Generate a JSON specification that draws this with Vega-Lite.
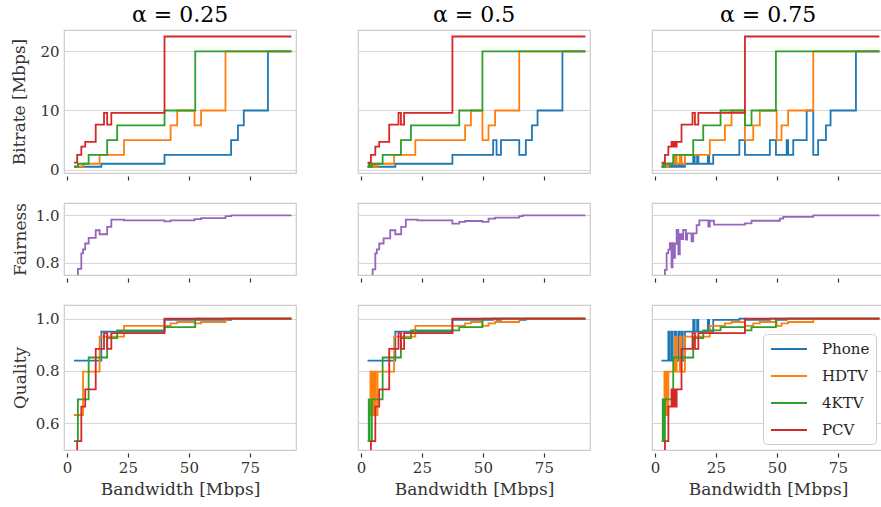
{
"$schema": "https://vega.github.io/schema/vega-lite/v6.json",
"padding": {"left": 10, "top": 4, "right": 0, "bottom": 0},
"background": "white",
"datasets": {
"bit": [
{"a":"0.25","s":"Phone","x":2.9,"y":0.5},{"a":"0.25","s":"Phone","x":14.1,"y":1},{"a":"0.25","s":"Phone","x":40,"y":2.5},{"a":"0.25","s":"Phone","x":67.3,"y":5},{"a":"0.25","s":"Phone","x":70.1,"y":7.5},{"a":"0.25","s":"Phone","x":72.5,"y":10},{"a":"0.25","s":"Phone","x":82.4,"y":20},{"a":"0.25","s":"Phone","x":92,"y":20},
{"a":"0.25","s":"HDTV","x":2.9,"y":0.5},{"a":"0.25","s":"HDTV","x":6.6,"y":1},{"a":"0.25","s":"HDTV","x":13.4,"y":2.5},{"a":"0.25","s":"HDTV","x":23.4,"y":5},{"a":"0.25","s":"HDTV","x":42.5,"y":7.5},{"a":"0.25","s":"HDTV","x":45.2,"y":10},{"a":"0.25","s":"HDTV","x":52.3,"y":7.5},{"a":"0.25","s":"HDTV","x":55,"y":10},{"a":"0.25","s":"HDTV","x":65,"y":20},{"a":"0.25","s":"HDTV","x":92,"y":20},
{"a":"0.25","s":"4KTV","x":2.9,"y":0.5},{"a":"0.25","s":"4KTV","x":4.5,"y":1},{"a":"0.25","s":"4KTV","x":8.9,"y":2.5},{"a":"0.25","s":"4KTV","x":16.5,"y":5},{"a":"0.25","s":"4KTV","x":20.6,"y":7.5},{"a":"0.25","s":"4KTV","x":40,"y":10},{"a":"0.25","s":"4KTV","x":52.6,"y":20},{"a":"0.25","s":"4KTV","x":92,"y":20},
{"a":"0.25","s":"PCV","x":2.9,"y":1.2},{"a":"0.25","s":"PCV","x":4.2,"y":2.5},{"a":"0.25","s":"PCV","x":5.9,"y":3.9},{"a":"0.25","s":"PCV","x":7.5,"y":4.7},{"a":"0.25","s":"PCV","x":11.8,"y":7.6},{"a":"0.25","s":"PCV","x":15.2,"y":9.6},{"a":"0.25","s":"PCV","x":16.5,"y":7.6},{"a":"0.25","s":"PCV","x":18.2,"y":9.6},{"a":"0.25","s":"PCV","x":40,"y":22.5},{"a":"0.25","s":"PCV","x":92,"y":22.5},
{"a":"0.5","s":"Phone","x":2.7,"y":0.5},{"a":"0.5","s":"Phone","x":14.1,"y":1},{"a":"0.5","s":"Phone","x":37.5,"y":2.5},{"a":"0.5","s":"Phone","x":54.2,"y":5},{"a":"0.5","s":"Phone","x":55.6,"y":2.5},{"a":"0.5","s":"Phone","x":57.4,"y":5},{"a":"0.5","s":"Phone","x":64.9,"y":2.5},{"a":"0.5","s":"Phone","x":67.6,"y":5},{"a":"0.5","s":"Phone","x":70.1,"y":7.5},{"a":"0.5","s":"Phone","x":72.4,"y":10},{"a":"0.5","s":"Phone","x":82.6,"y":20},{"a":"0.5","s":"Phone","x":92,"y":20},
{"a":"0.5","s":"HDTV","x":3.4,"y":0.5},{"a":"0.5","s":"HDTV","x":3.9,"y":1},{"a":"0.5","s":"HDTV","x":4.3,"y":0.5},{"a":"0.5","s":"HDTV","x":4.7,"y":1},{"a":"0.5","s":"HDTV","x":5.1,"y":0.5},{"a":"0.5","s":"HDTV","x":5.6,"y":1},{"a":"0.5","s":"HDTV","x":6.0,"y":0.5},{"a":"0.5","s":"HDTV","x":6.8,"y":1},{"a":"0.5","s":"HDTV","x":13.6,"y":2.5},{"a":"0.5","s":"HDTV","x":22.3,"y":5},{"a":"0.5","s":"HDTV","x":42.7,"y":7.5},{"a":"0.5","s":"HDTV","x":45.1,"y":10},{"a":"0.5","s":"HDTV","x":49.8,"y":5},{"a":"0.5","s":"HDTV","x":52.3,"y":7.5},{"a":"0.5","s":"HDTV","x":55,"y":10},{"a":"0.5","s":"HDTV","x":64.9,"y":20},{"a":"0.5","s":"HDTV","x":92,"y":20},
{"a":"0.5","s":"4KTV","x":2.7,"y":0.5},{"a":"0.5","s":"4KTV","x":3.2,"y":1},{"a":"0.5","s":"4KTV","x":3.6,"y":0.5},{"a":"0.5","s":"4KTV","x":4.5,"y":1},{"a":"0.5","s":"4KTV","x":8.9,"y":2.5},{"a":"0.5","s":"4KTV","x":16.4,"y":5},{"a":"0.5","s":"4KTV","x":20.5,"y":7.5},{"a":"0.5","s":"4KTV","x":40.3,"y":10},{"a":"0.5","s":"4KTV","x":49.8,"y":20},{"a":"0.5","s":"4KTV","x":92,"y":20},
{"a":"0.5","s":"PCV","x":2.7,"y":1.2},{"a":"0.5","s":"PCV","x":4.1,"y":2.5},{"a":"0.5","s":"PCV","x":5.9,"y":3.9},{"a":"0.5","s":"PCV","x":7.5,"y":4.7},{"a":"0.5","s":"PCV","x":11.6,"y":7.6},{"a":"0.5","s":"PCV","x":15.4,"y":9.6},{"a":"0.5","s":"PCV","x":16.4,"y":7.6},{"a":"0.5","s":"PCV","x":17.7,"y":9.6},{"a":"0.5","s":"PCV","x":37.5,"y":22.5},{"a":"0.5","s":"PCV","x":92,"y":22.5},
{"a":"0.75","s":"Phone","x":2.7,"y":0.5},{"a":"0.75","s":"Phone","x":5.5,"y":1},{"a":"0.75","s":"Phone","x":6.0,"y":0.5},{"a":"0.75","s":"Phone","x":6.8,"y":1},{"a":"0.75","s":"Phone","x":7.3,"y":0.5},{"a":"0.75","s":"Phone","x":8.2,"y":1},{"a":"0.75","s":"Phone","x":8.7,"y":0.5},{"a":"0.75","s":"Phone","x":9.6,"y":1},{"a":"0.75","s":"Phone","x":10.1,"y":0.5},{"a":"0.75","s":"Phone","x":10.9,"y":1},{"a":"0.75","s":"Phone","x":11.4,"y":0.5},{"a":"0.75","s":"Phone","x":12.3,"y":1},{"a":"0.75","s":"Phone","x":15.7,"y":2.5},{"a":"0.75","s":"Phone","x":16.3,"y":1},{"a":"0.75","s":"Phone","x":17.3,"y":2.5},{"a":"0.75","s":"Phone","x":17.8,"y":1},{"a":"0.75","s":"Phone","x":21.7,"y":2.5},{"a":"0.75","s":"Phone","x":22.2,"y":1},{"a":"0.75","s":"Phone","x":23.9,"y":2.5},{"a":"0.75","s":"Phone","x":34.6,"y":5},{"a":"0.75","s":"Phone","x":36.9,"y":2.5},{"a":"0.75","s":"Phone","x":47.1,"y":5},{"a":"0.75","s":"Phone","x":49.6,"y":2.5},{"a":"0.75","s":"Phone","x":54.0,"y":5},{"a":"0.75","s":"Phone","x":54.6,"y":2.5},{"a":"0.75","s":"Phone","x":56.7,"y":5},{"a":"0.75","s":"Phone","x":62.2,"y":10},{"a":"0.75","s":"Phone","x":64.9,"y":2.5},{"a":"0.75","s":"Phone","x":66.9,"y":5},{"a":"0.75","s":"Phone","x":70.1,"y":7.5},{"a":"0.75","s":"Phone","x":72.0,"y":10},{"a":"0.75","s":"Phone","x":82.4,"y":20},{"a":"0.75","s":"Phone","x":92,"y":20},
{"a":"0.75","s":"HDTV","x":3.4,"y":0.5},{"a":"0.75","s":"HDTV","x":3.9,"y":1},{"a":"0.75","s":"HDTV","x":4.2,"y":0.5},{"a":"0.75","s":"HDTV","x":4.6,"y":1},{"a":"0.75","s":"HDTV","x":4.9,"y":0.5},{"a":"0.75","s":"HDTV","x":5.5,"y":1},{"a":"0.75","s":"HDTV","x":8.2,"y":2.5},{"a":"0.75","s":"HDTV","x":8.9,"y":1},{"a":"0.75","s":"HDTV","x":10.2,"y":2.5},{"a":"0.75","s":"HDTV","x":10.9,"y":1},{"a":"0.75","s":"HDTV","x":12.3,"y":2.5},{"a":"0.75","s":"HDTV","x":22.5,"y":5},{"a":"0.75","s":"HDTV","x":28.7,"y":7.5},{"a":"0.75","s":"HDTV","x":31.4,"y":10},{"a":"0.75","s":"HDTV","x":36.9,"y":5},{"a":"0.75","s":"HDTV","x":40.3,"y":7.5},{"a":"0.75","s":"HDTV","x":43,"y":10},{"a":"0.75","s":"HDTV","x":49.9,"y":5},{"a":"0.75","s":"HDTV","x":51.9,"y":7.5},{"a":"0.75","s":"HDTV","x":54.6,"y":10},{"a":"0.75","s":"HDTV","x":64.9,"y":20},{"a":"0.75","s":"HDTV","x":92,"y":20},
{"a":"0.75","s":"4KTV","x":2.7,"y":0.5},{"a":"0.75","s":"4KTV","x":3.2,"y":1},{"a":"0.75","s":"4KTV","x":3.6,"y":0.5},{"a":"0.75","s":"4KTV","x":4.1,"y":1},{"a":"0.75","s":"4KTV","x":7.5,"y":2.5},{"a":"0.75","s":"4KTV","x":15.7,"y":5},{"a":"0.75","s":"4KTV","x":19.8,"y":7.5},{"a":"0.75","s":"4KTV","x":26.9,"y":10},{"a":"0.75","s":"4KTV","x":36.9,"y":7.5},{"a":"0.75","s":"4KTV","x":39.6,"y":10},{"a":"0.75","s":"4KTV","x":49.6,"y":20},{"a":"0.75","s":"4KTV","x":92,"y":20},
{"a":"0.75","s":"PCV","x":2.7,"y":1.2},{"a":"0.75","s":"PCV","x":4.1,"y":2.5},{"a":"0.75","s":"PCV","x":5.5,"y":3.9},{"a":"0.75","s":"PCV","x":6.8,"y":4.7},{"a":"0.75","s":"PCV","x":7.3,"y":3.9},{"a":"0.75","s":"PCV","x":7.8,"y":4.7},{"a":"0.75","s":"PCV","x":8.3,"y":3.9},{"a":"0.75","s":"PCV","x":8.9,"y":4.7},{"a":"0.75","s":"PCV","x":10.9,"y":7.6},{"a":"0.75","s":"PCV","x":15.4,"y":9.6},{"a":"0.75","s":"PCV","x":16.4,"y":7.6},{"a":"0.75","s":"PCV","x":17.8,"y":9.6},{"a":"0.75","s":"PCV","x":36.9,"y":22.5},{"a":"0.75","s":"PCV","x":92,"y":22.5}
],
"fair": [
{"a":"0.25","x":2.9,"y":0.70},{"a":"0.25","x":4.5,"y":0.774},{"a":"0.25","x":5.9,"y":0.839},{"a":"0.25","x":6.6,"y":0.856},{"a":"0.25","x":7.5,"y":0.881},{"a":"0.25","x":8.9,"y":0.905},{"a":"0.25","x":11.8,"y":0.937},{"a":"0.25","x":13.4,"y":0.92},{"a":"0.25","x":16.5,"y":0.951},{"a":"0.25","x":18.2,"y":0.982},{"a":"0.25","x":23.4,"y":0.979},{"a":"0.25","x":40,"y":0.974},{"a":"0.25","x":42.5,"y":0.979},{"a":"0.25","x":52.3,"y":0.984},{"a":"0.25","x":55,"y":0.988},{"a":"0.25","x":65,"y":0.997},{"a":"0.25","x":67.3,"y":1.0},{"a":"0.25","x":92,"y":1.0},
{"a":"0.5","x":2.7,"y":0.70},{"a":"0.5","x":4.8,"y":0.772},{"a":"0.5","x":5.9,"y":0.839},{"a":"0.5","x":6.5,"y":0.856},{"a":"0.5","x":7.5,"y":0.881},{"a":"0.5","x":9.3,"y":0.903},{"a":"0.5","x":12.0,"y":0.937},{"a":"0.5","x":14.1,"y":0.92},{"a":"0.5","x":16.5,"y":0.951},{"a":"0.5","x":18.4,"y":0.982},{"a":"0.5","x":23.2,"y":0.979},{"a":"0.5","x":37.5,"y":0.965},{"a":"0.5","x":40.3,"y":0.972},{"a":"0.5","x":42.7,"y":0.976},{"a":"0.5","x":49.8,"y":0.972},{"a":"0.5","x":52.3,"y":0.986},{"a":"0.5","x":55,"y":0.99},{"a":"0.5","x":64.9,"y":0.997},{"a":"0.5","x":66.3,"y":1.0},{"a":"0.5","x":92,"y":1.0},
{"a":"0.75","x":2.7,"y":0.70},{"a":"0.75","x":4.1,"y":0.77},{"a":"0.75","x":4.8,"y":0.84},{"a":"0.75","x":5.5,"y":0.855},{"a":"0.75","x":6.1,"y":0.883},{"a":"0.75","x":6.8,"y":0.78},{"a":"0.75","x":7.2,"y":0.883},{"a":"0.75","x":7.8,"y":0.82},{"a":"0.75","x":8.2,"y":0.88},{"a":"0.75","x":8.9,"y":0.938},{"a":"0.75","x":9.6,"y":0.835},{"a":"0.75","x":10.2,"y":0.92},{"a":"0.75","x":10.9,"y":0.9},{"a":"0.75","x":11.6,"y":0.938},{"a":"0.75","x":12.7,"y":0.897},{"a":"0.75","x":13.2,"y":0.924},{"a":"0.75","x":15.0,"y":0.89},{"a":"0.75","x":15.7,"y":0.924},{"a":"0.75","x":17.1,"y":0.959},{"a":"0.75","x":18.2,"y":0.979},{"a":"0.75","x":21.9,"y":0.952},{"a":"0.75","x":22.5,"y":0.977},{"a":"0.75","x":24.2,"y":0.961},{"a":"0.75","x":36.9,"y":0.966},{"a":"0.75","x":39.6,"y":0.977},{"a":"0.75","x":51.2,"y":0.986},{"a":"0.75","x":52.6,"y":0.993},{"a":"0.75","x":64.9,"y":1.0},{"a":"0.75","x":92,"y":1.0}
],
"qual": [
{"a":"0.25","s":"Phone","x":2.9,"y":0.839},{"a":"0.25","s":"Phone","x":14.1,"y":0.95},{"a":"0.25","s":"Phone","x":40,"y":0.995},{"a":"0.25","s":"Phone","x":67.3,"y":1},{"a":"0.25","s":"Phone","x":92,"y":1},
{"a":"0.25","s":"HDTV","x":2.9,"y":0.631},{"a":"0.25","s":"HDTV","x":6.6,"y":0.797},{"a":"0.25","s":"HDTV","x":13.4,"y":0.931},{"a":"0.25","s":"HDTV","x":23.4,"y":0.972},{"a":"0.25","s":"HDTV","x":42.5,"y":0.982},{"a":"0.25","s":"HDTV","x":45.2,"y":0.987},{"a":"0.25","s":"HDTV","x":52.3,"y":0.982},{"a":"0.25","s":"HDTV","x":55,"y":0.987},{"a":"0.25","s":"HDTV","x":65,"y":1},{"a":"0.25","s":"HDTV","x":92,"y":1},
{"a":"0.25","s":"4KTV","x":2.9,"y":0.531},{"a":"0.25","s":"4KTV","x":4.5,"y":0.691},{"a":"0.25","s":"4KTV","x":8.9,"y":0.851},{"a":"0.25","s":"4KTV","x":16.5,"y":0.925},{"a":"0.25","s":"4KTV","x":20.6,"y":0.955},{"a":"0.25","s":"4KTV","x":40,"y":0.967},{"a":"0.25","s":"4KTV","x":52.6,"y":1},{"a":"0.25","s":"4KTV","x":92,"y":1},
{"a":"0.25","s":"PCV","x":2.9,"y":0.45},{"a":"0.25","s":"PCV","x":4.2,"y":0.531},{"a":"0.25","s":"PCV","x":5.9,"y":0.663},{"a":"0.25","s":"PCV","x":7.5,"y":0.729},{"a":"0.25","s":"PCV","x":11.8,"y":0.884},{"a":"0.25","s":"PCV","x":15.2,"y":0.944},{"a":"0.25","s":"PCV","x":16.5,"y":0.884},{"a":"0.25","s":"PCV","x":18.2,"y":0.944},{"a":"0.25","s":"PCV","x":40,"y":1},{"a":"0.25","s":"PCV","x":92,"y":1},
{"a":"0.5","s":"Phone","x":2.7,"y":0.839},{"a":"0.5","s":"Phone","x":14.1,"y":0.95},{"a":"0.5","s":"Phone","x":37.5,"y":0.995},{"a":"0.5","s":"Phone","x":54.2,"y":1},{"a":"0.5","s":"Phone","x":55.6,"y":0.995},{"a":"0.5","s":"Phone","x":57.4,"y":1},{"a":"0.5","s":"Phone","x":64.9,"y":0.995},{"a":"0.5","s":"Phone","x":67.6,"y":1},{"a":"0.5","s":"Phone","x":92,"y":1},
{"a":"0.5","s":"HDTV","x":3.4,"y":0.631},{"a":"0.5","s":"HDTV","x":3.9,"y":0.797},{"a":"0.5","s":"HDTV","x":4.3,"y":0.631},{"a":"0.5","s":"HDTV","x":4.7,"y":0.797},{"a":"0.5","s":"HDTV","x":5.1,"y":0.631},{"a":"0.5","s":"HDTV","x":5.6,"y":0.797},{"a":"0.5","s":"HDTV","x":6.0,"y":0.631},{"a":"0.5","s":"HDTV","x":6.8,"y":0.797},{"a":"0.5","s":"HDTV","x":13.6,"y":0.931},{"a":"0.5","s":"HDTV","x":22.3,"y":0.972},{"a":"0.5","s":"HDTV","x":42.7,"y":0.982},{"a":"0.5","s":"HDTV","x":45.1,"y":0.987},{"a":"0.5","s":"HDTV","x":49.8,"y":0.972},{"a":"0.5","s":"HDTV","x":52.3,"y":0.982},{"a":"0.5","s":"HDTV","x":55,"y":0.987},{"a":"0.5","s":"HDTV","x":64.9,"y":1},{"a":"0.5","s":"HDTV","x":92,"y":1},
{"a":"0.5","s":"4KTV","x":2.7,"y":0.531},{"a":"0.5","s":"4KTV","x":3.2,"y":0.691},{"a":"0.5","s":"4KTV","x":3.6,"y":0.531},{"a":"0.5","s":"4KTV","x":4.5,"y":0.691},{"a":"0.5","s":"4KTV","x":8.9,"y":0.851},{"a":"0.5","s":"4KTV","x":16.4,"y":0.925},{"a":"0.5","s":"4KTV","x":20.5,"y":0.955},{"a":"0.5","s":"4KTV","x":40.3,"y":0.967},{"a":"0.5","s":"4KTV","x":49.8,"y":1},{"a":"0.5","s":"4KTV","x":92,"y":1},
{"a":"0.5","s":"PCV","x":2.7,"y":0.45},{"a":"0.5","s":"PCV","x":4.1,"y":0.531},{"a":"0.5","s":"PCV","x":5.9,"y":0.663},{"a":"0.5","s":"PCV","x":7.5,"y":0.729},{"a":"0.5","s":"PCV","x":11.6,"y":0.884},{"a":"0.5","s":"PCV","x":15.4,"y":0.944},{"a":"0.5","s":"PCV","x":16.4,"y":0.884},{"a":"0.5","s":"PCV","x":17.7,"y":0.944},{"a":"0.5","s":"PCV","x":37.5,"y":1},{"a":"0.5","s":"PCV","x":92,"y":1},
{"a":"0.75","s":"Phone","x":2.7,"y":0.839},{"a":"0.75","s":"Phone","x":5.5,"y":0.95},{"a":"0.75","s":"Phone","x":6.0,"y":0.839},{"a":"0.75","s":"Phone","x":6.8,"y":0.95},{"a":"0.75","s":"Phone","x":7.3,"y":0.839},{"a":"0.75","s":"Phone","x":8.2,"y":0.95},{"a":"0.75","s":"Phone","x":8.7,"y":0.839},{"a":"0.75","s":"Phone","x":9.6,"y":0.95},{"a":"0.75","s":"Phone","x":10.1,"y":0.839},{"a":"0.75","s":"Phone","x":10.9,"y":0.95},{"a":"0.75","s":"Phone","x":11.4,"y":0.839},{"a":"0.75","s":"Phone","x":12.3,"y":0.95},{"a":"0.75","s":"Phone","x":15.7,"y":0.995},{"a":"0.75","s":"Phone","x":16.3,"y":0.95},{"a":"0.75","s":"Phone","x":17.3,"y":0.995},{"a":"0.75","s":"Phone","x":17.8,"y":0.95},{"a":"0.75","s":"Phone","x":21.7,"y":0.995},{"a":"0.75","s":"Phone","x":22.2,"y":0.95},{"a":"0.75","s":"Phone","x":23.9,"y":0.995},{"a":"0.75","s":"Phone","x":34.6,"y":1},{"a":"0.75","s":"Phone","x":36.9,"y":0.995},{"a":"0.75","s":"Phone","x":47.1,"y":1},{"a":"0.75","s":"Phone","x":49.6,"y":0.995},{"a":"0.75","s":"Phone","x":54.0,"y":1},{"a":"0.75","s":"Phone","x":92,"y":1},
{"a":"0.75","s":"HDTV","x":3.4,"y":0.631},{"a":"0.75","s":"HDTV","x":3.9,"y":0.797},{"a":"0.75","s":"HDTV","x":4.2,"y":0.631},{"a":"0.75","s":"HDTV","x":4.6,"y":0.797},{"a":"0.75","s":"HDTV","x":4.9,"y":0.631},{"a":"0.75","s":"HDTV","x":5.5,"y":0.797},{"a":"0.75","s":"HDTV","x":8.2,"y":0.931},{"a":"0.75","s":"HDTV","x":8.9,"y":0.797},{"a":"0.75","s":"HDTV","x":10.2,"y":0.931},{"a":"0.75","s":"HDTV","x":10.9,"y":0.797},{"a":"0.75","s":"HDTV","x":12.3,"y":0.931},{"a":"0.75","s":"HDTV","x":22.5,"y":0.972},{"a":"0.75","s":"HDTV","x":28.7,"y":0.982},{"a":"0.75","s":"HDTV","x":31.4,"y":0.987},{"a":"0.75","s":"HDTV","x":36.9,"y":0.972},{"a":"0.75","s":"HDTV","x":40.3,"y":0.982},{"a":"0.75","s":"HDTV","x":43,"y":0.987},{"a":"0.75","s":"HDTV","x":49.9,"y":0.972},{"a":"0.75","s":"HDTV","x":51.9,"y":0.982},{"a":"0.75","s":"HDTV","x":54.6,"y":0.987},{"a":"0.75","s":"HDTV","x":64.9,"y":1},{"a":"0.75","s":"HDTV","x":92,"y":1},
{"a":"0.75","s":"4KTV","x":2.7,"y":0.531},{"a":"0.75","s":"4KTV","x":3.2,"y":0.691},{"a":"0.75","s":"4KTV","x":3.6,"y":0.531},{"a":"0.75","s":"4KTV","x":4.1,"y":0.691},{"a":"0.75","s":"4KTV","x":7.5,"y":0.851},{"a":"0.75","s":"4KTV","x":15.7,"y":0.925},{"a":"0.75","s":"4KTV","x":19.8,"y":0.955},{"a":"0.75","s":"4KTV","x":26.9,"y":0.967},{"a":"0.75","s":"4KTV","x":36.9,"y":0.955},{"a":"0.75","s":"4KTV","x":39.6,"y":0.967},{"a":"0.75","s":"4KTV","x":49.6,"y":1},{"a":"0.75","s":"4KTV","x":92,"y":1},
{"a":"0.75","s":"PCV","x":2.7,"y":0.45},{"a":"0.75","s":"PCV","x":4.1,"y":0.531},{"a":"0.75","s":"PCV","x":5.5,"y":0.663},{"a":"0.75","s":"PCV","x":6.8,"y":0.729},{"a":"0.75","s":"PCV","x":7.3,"y":0.663},{"a":"0.75","s":"PCV","x":7.8,"y":0.729},{"a":"0.75","s":"PCV","x":8.3,"y":0.663},{"a":"0.75","s":"PCV","x":8.9,"y":0.729},{"a":"0.75","s":"PCV","x":10.9,"y":0.884},{"a":"0.75","s":"PCV","x":15.4,"y":0.944},{"a":"0.75","s":"PCV","x":16.4,"y":0.884},{"a":"0.75","s":"PCV","x":17.8,"y":0.944},{"a":"0.75","s":"PCV","x":36.9,"y":1},{"a":"0.75","s":"PCV","x":92,"y":1}
]
},
"vconcat": [
{
"data": {"name": "bit"},
"facet": {"column": {"field": "a", "type": "nominal", "title": null, "header": {"labelExpr": "'α = ' + datum.value", "labelFontSize": 22, "labelFont": "DejaVu Serif", "labelColor": "#000000", "labelPadding": 2}}},
"spacing": 60,
"spec": {
"width": 232, "height": 143,
"mark": {"type": "line", "interpolate": "step-after", "clip": true, "strokeWidth": 1.8},
"encoding": {
"x": {"field": "x", "type": "quantitative", "scale": {"domain": [-1.2, 93.9], "nice": false, "zero": false}, "axis": {"values": [0, 25, 50, 75], "labels": false, "title": null, "grid": false}},
"y": {"field": "y", "type": "quantitative", "scale": {"domain": [-0.56, 23.6], "nice": false, "zero": false}, "axis": {"values": [0, 10, 20], "title": "Bitrate [Mbps]", "titlePadding": 11}},
"color": {"field": "s", "type": "nominal", "scale": {"domain": ["Phone", "HDTV", "4KTV", "PCV"], "range": ["#1f77b4", "#ff7f0e", "#2ca02c", "#d62728"]},
"legend": {"title": null, "orient": "none", "legendX": 699, "legendY": 304, "symbolType": "M-2.25,0H2.25", "symbolSize": 256, "symbolStrokeWidth": 2, "symbolOffset": 11, "labelFont": "DejaVu Serif", "labelFontSize": 15, "labelColor": "#262626", "labelOffset": 24, "rowPadding": 10, "padding": 6, "strokeColor": "#cccccc", "fillColor": "white", "cornerRadius": 4}}
}
}
},
{
"data": {"name": "fair"},
"facet": {"column": {"field": "a", "type": "nominal", "title": null, "header": {"labels": false, "title": null}}},
"spacing": 60,
"spec": {
"width": 232, "height": 72,
"mark": {"type": "line", "interpolate": "step-after", "clip": true, "strokeWidth": 1.8, "color": "#9467bd"},
"encoding": {
"x": {"field": "x", "type": "quantitative", "scale": {"domain": [-1.2, 93.9], "nice": false, "zero": false}, "axis": {"values": [0, 25, 50, 75], "labels": false, "title": null, "grid": false}},
"y": {"field": "y", "type": "quantitative", "scale": {"domain": [0.748, 1.052], "nice": false, "zero": false}, "axis": {"values": [0.8, 1.0], "format": ".1f", "title": "Fairness", "titlePadding": 6}}
}
}
},
{
"data": {"name": "qual"},
"facet": {"column": {"field": "a", "type": "nominal", "title": null, "header": {"labels": false, "title": null}}},
"spacing": 60,
"spec": {
"width": 232, "height": 145,
"mark": {"type": "line", "interpolate": "step-after", "clip": true, "strokeWidth": 1.8},
"encoding": {
"x": {"field": "x", "type": "quantitative", "scale": {"domain": [-1.2, 93.9], "nice": false, "zero": false}, "axis": {"values": [0, 25, 50, 75], "title": "Bandwidth [Mbps]", "grid": false}},
"y": {"field": "y", "type": "quantitative", "scale": {"domain": [0.497, 1.052], "nice": false, "zero": false}, "axis": {"values": [0.6, 0.8, 1.0], "format": ".1f", "title": "Quality", "titlePadding": 6}},
"color": {"field": "s", "type": "nominal", "scale": {"domain": ["Phone", "HDTV", "4KTV", "PCV"], "range": ["#1f77b4", "#ff7f0e", "#2ca02c", "#d62728"]},
"legend": {"title": null, "orient": "none", "legendX": 699, "legendY": 304, "symbolType": "M-2.25,0H2.25", "symbolSize": 256, "symbolStrokeWidth": 2, "symbolOffset": 11, "labelFont": "DejaVu Serif", "labelFontSize": 15, "labelColor": "#262626", "labelOffset": 24, "rowPadding": 10, "padding": 6, "strokeColor": "#cccccc", "fillColor": "white", "cornerRadius": 4}}
}
}
}
],
"spacing": 21,
"config": {
"font": "DejaVu Serif",
"view": {"stroke": "#cccccc", "strokeWidth": 1.2},
"axis": {"domain": false, "gridColor": "#d6d6d6", "gridWidth": 1, "labelFont": "DejaVu Serif", "labelFontSize": 15, "labelColor": "#333333", "titleFont": "DejaVu Serif", "titleFontSize": 17, "titleFontWeight": "normal", "titleColor": "#333333", "tickColor": "#333333", "tickSize": 4, "tickWidth": 1.2},
"axisX": {"offset": 2, "labelPadding": 3, "titlePadding": 6},
"axisY": {"ticks": false, "labelPadding": 4}
}
}
